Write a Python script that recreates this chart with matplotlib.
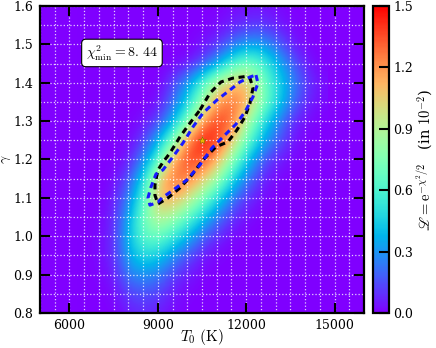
import numpy as np
import matplotlib
matplotlib.use('Agg')
import matplotlib.pyplot as plt
from matplotlib.ticker import MultipleLocator

plt.rcParams['font.family'] = 'DejaVu Serif'
plt.rcParams['mathtext.fontset'] = 'cm'

# likelihood grid (in 10^-2)
t0_grid = [6500, 7000, 7500, 8000, 8500, 9000, 9500, 10000, 10500,
           11000, 11500, 12000, 12500, 13000, 13500, 14000, 14500]
gamma_grid = [1.60, 1.55, 1.50, 1.45, 1.40, 1.35, 1.30, 1.25, 1.20,
              1.15, 1.10, 1.05, 1.00, 0.95, 0.90, 0.85, 0.80]
like_rows = [
    [0, 0, 0, 0, 0, 0, 0, 0, 0, 0, 0.02, 0.03, 0.03, 0.02, 0, 0, 0],
    [0, 0, 0, 0, 0, 0, 0, 0, 0, 0.02, 0.05, 0.08, 0.10, 0.05, 0.02, 0, 0],
    [0, 0, 0, 0, 0, 0, 0, 0, 0.03, 0.08, 0.20, 0.30, 0.30, 0.20, 0.06, 0.01, 0],
    [0, 0, 0, 0, 0, 0, 0, 0.03, 0.12, 0.30, 0.55, 0.70, 0.60, 0.40, 0.20, 0.05, 0],
    [0, 0, 0, 0, 0, 0, 0.12, 0.30, 0.60, 0.90, 1.05, 1.10, 0.75, 0.50, 0.30, 0.12, 0.03],
    [0, 0, 0, 0, 0, 0.03, 0.20, 0.45, 0.80, 1.15, 1.30, 1.15, 0.80, 0.50, 0.25, 0.08, 0.02],
    [0, 0, 0, 0, 0.03, 0.12, 0.35, 0.70, 1.15, 1.40, 1.30, 0.90, 0.55, 0.30, 0.10, 0.03, 0],
    [0, 0, 0, 0.02, 0.10, 0.35, 0.70, 1.20, 1.50, 1.40, 1.10, 0.70, 0.40, 0.20, 0.06, 0, 0],
    [0, 0, 0, 0.05, 0.25, 0.60, 1.10, 1.40, 1.35, 1.15, 0.80, 0.45, 0.20, 0.07, 0.02, 0, 0],
    [0, 0, 0.02, 0.15, 0.45, 1.00, 1.30, 1.25, 1.10, 0.85, 0.50, 0.25, 0.08, 0.02, 0, 0, 0],
    [0, 0, 0.05, 0.25, 0.60, 1.10, 1.15, 1.00, 0.75, 0.50, 0.25, 0.10, 0.03, 0, 0, 0, 0],
    [0, 0.01, 0.07, 0.35, 0.70, 0.95, 0.85, 0.65, 0.45, 0.25, 0.10, 0.03, 0, 0, 0, 0, 0],
    [0, 0.02, 0.08, 0.40, 0.65, 0.70, 0.55, 0.40, 0.20, 0.08, 0.02, 0, 0, 0, 0, 0, 0],
    [0, 0.02, 0.08, 0.35, 0.50, 0.45, 0.30, 0.15, 0.05, 0.01, 0, 0, 0, 0, 0, 0, 0],
    [0, 0.01, 0.05, 0.25, 0.30, 0.25, 0.12, 0.05, 0.01, 0, 0, 0, 0, 0, 0, 0, 0],
    [0, 0, 0.02, 0.12, 0.15, 0.12, 0.05, 0.01, 0, 0, 0, 0, 0, 0, 0, 0, 0],
    [0, 0, 0, 0.05, 0.08, 0.05, 0.02, 0, 0, 0, 0, 0, 0, 0, 0, 0, 0],
]

# two 1-sigma contours
black_t0 = [10432, 10772, 11145, 11552, 11960, 12130, 12231, 12130, 11960, 11688,
            11383, 10975, 10534, 10160, 9753, 9346, 9006, 8904, 8904, 9006,
            9176, 9414, 9753, 10093, 10432]
black_gamma = [1.329, 1.373, 1.402, 1.412, 1.416, 1.412, 1.386, 1.347, 1.311, 1.277,
               1.246, 1.233, 1.199, 1.160, 1.126, 1.100, 1.084, 1.107, 1.134, 1.173,
               1.193, 1.217, 1.259, 1.295, 1.329]
blue_t0 = [12333, 12401, 12231, 11960, 11654, 11281, 10840, 10432, 9990, 9515,
           9142, 9006, 8734, 8666, 8768, 8938, 9176, 9515, 9855, 10194,
           10534, 11009, 11450, 11790, 12130, 12333]
blue_gamma = [1.420, 1.399, 1.363, 1.324, 1.292, 1.264, 1.230, 1.186, 1.147, 1.120,
              1.100, 1.089, 1.081, 1.100, 1.128, 1.162, 1.173, 1.207, 1.243, 1.285,
              1.321, 1.355, 1.381, 1.402, 1.415, 1.420]

best_t0 = 10500
best_gamma = 1.25
chi2_min = 8.44

like = np.array(like_rows)
cmap = plt.get_cmap('rainbow')

fig = plt.figure(figsize=(4.36, 3.48), dpi=100)
ax = fig.add_axes([0.0917, 0.1006, 0.7431, 0.8822])
cax = fig.add_axes([0.8555, 0.1006, 0.0367, 0.8822])

ax.set_facecolor(cmap(0.0))
dt = (t0_grid[1] - t0_grid[0]) / 2
dg = (gamma_grid[0] - gamma_grid[1]) / 2
im = ax.imshow(like, cmap=cmap, vmin=0, vmax=1.5, aspect='auto',
               interpolation='bicubic', origin='upper',
               extent=[t0_grid[0] - dt, t0_grid[-1] + dt,
                       gamma_grid[-1] - dg, gamma_grid[0] + dg])

ax.plot(black_t0, black_gamma, color='black', ls=(0, (2, 1.5)), lw=2.2)
ax.plot(blue_t0, blue_gamma, color='#1a1aff', ls=(0, (2, 1.5)), lw=2.2)
ax.plot(best_t0, best_gamma, marker='*', ms=6, mfc='#e8b800', mec='#806000', mew=0.4)

ax.set_xlim(5000, 16000)
ax.set_ylim(0.8, 1.6)
ax.xaxis.set_major_locator(MultipleLocator(3000))
ax.xaxis.set_minor_locator(MultipleLocator(500))
ax.yaxis.set_major_locator(MultipleLocator(0.1))
ax.yaxis.set_minor_locator(MultipleLocator(0.05))
ax.tick_params(which='major', direction='in', length=7, width=1.5,
               top=True, right=True, labelsize=9)
ax.tick_params(axis='x', pad=4)
ax.tick_params(axis='y', pad=5)
ax.tick_params(which='minor', length=0)
ax.grid(which='both', color='white', ls=':', lw=0.9, alpha=0.8)
for s in ax.spines.values():
    s.set_linewidth(1.6)

ax.set_xlabel(r'$T_0\ (\mathrm{K})$', fontsize=11)
ax.xaxis.set_label_coords(0.5, -0.047)
ax.set_ylabel(r'$\gamma$', fontsize=10)
ax.yaxis.set_label_coords(-0.084, 0.5)

chi_str = ('%.2f' % chi2_min).replace('.', r'.\,')
ax.text(0.253, 0.847, r'$\chi^2_{\rm min} = %s$' % chi_str, transform=ax.transAxes,
        ha='center', va='center', fontsize=10,
        bbox=dict(boxstyle='round,pad=0.3', fc='white', ec='black', lw=0.8))

cb = fig.colorbar(im, cax=cax, ticks=[0.0, 0.3, 0.6, 0.9, 1.2, 1.5])
cb.ax.tick_params(direction='in', length=7, width=1.5, labelsize=9, pad=3)
cb.ax.set_yticklabels(['0.0', '0.3', '0.6', '0.9', '1.2', '1.5'])
cb.outline.set_linewidth(1.6)
cb.set_label(r'$\mathscr{L} = \mathrm{e}^{-\chi^2/2}$   (in $10^{-2}$)', fontsize=10.5)
cb.ax.yaxis.set_label_coords(2.6, 0.5)

fig.savefig('out.png', dpi=100)
